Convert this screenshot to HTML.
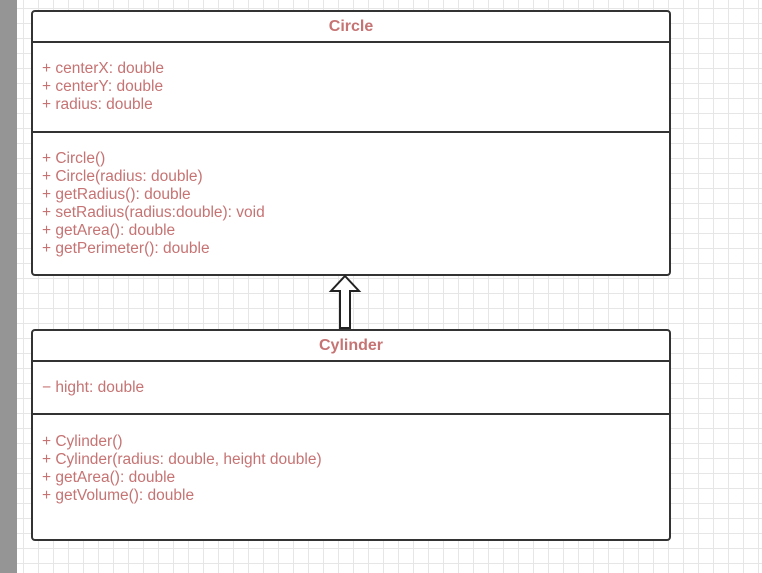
<!DOCTYPE html>
<html><head><style>
body{margin:0;width:762px;height:573px;position:relative;overflow:hidden;background:#fff;
background-image:linear-gradient(#e6e6e6 1px,transparent 1px),linear-gradient(90deg,#e6e6e6 1px,transparent 1px);
background-size:15px 15px;background-position:8px 8px;font-family:"Liberation Sans",sans-serif;}
.strip{position:absolute;left:0;top:0;width:17px;height:573px;background:#959595;}
.box{position:absolute;left:31px;width:636px;border:2px solid #333;border-radius:4px;background:#fff;}
.h{height:29px;border-bottom:2px solid #333;text-align:center;line-height:30px;color:#c67373;font-weight:bold;font-size:16px}
.s{border-bottom:2px solid #333;padding:0 9px;color:#c67373;font-size:15.5px;line-height:18px;box-sizing:border-box}
.s:last-child{border-bottom:none}
</style></head><body>
<div class="strip"></div>
<div class="box" style="top:10px;height:262px">
<div class="h">Circle</div>
<div class="s" style="height:90px;padding-top:17px">+ centerX: double<br>+ centerY: double<br>+ radius: double</div>
<div class="s" style="padding-top:17px">+ Circle()<br>+ Circle(radius: double)<br>+ getRadius(): double<br>+ setRadius(radius:double): void<br>+ getArea(): double<br>+ getPerimeter(): double</div>
</div>
<div class="box" style="top:329px;height:208px">
<div class="h">Cylinder</div>
<div class="s" style="height:53px;padding-top:17px">− hight: double</div>
<div class="s" style="padding-top:18px">+ Cylinder()<br>+ Cylinder(radius: double, height double)<br>+ getArea(): double<br>+ getVolume(): double</div>
</div>
<svg style="position:absolute;left:0;top:0" width="762" height="573">
<polygon points="345,276 359,291 350,291 350,328 340,328 340,291 331,291" fill="#fff" stroke="#222" stroke-width="2" stroke-linejoin="miter"/>
</svg>
</body></html>
